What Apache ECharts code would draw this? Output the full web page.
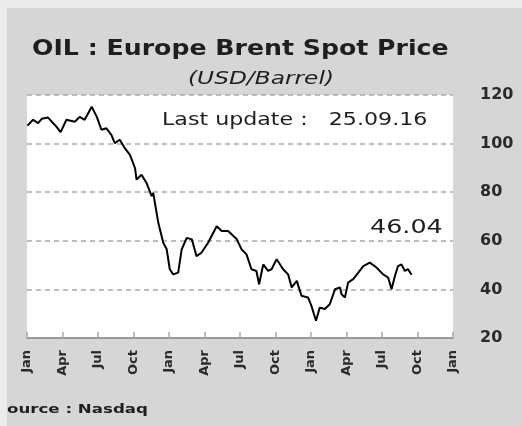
<!DOCTYPE html>
<html>
<head>
<meta charset="utf-8">
<script src="https://cdn.jsdelivr.net/npm/echarts@6/dist/echarts.min.js"></script>
<style>
  html, body { margin: 0; padding: 0; background: #ebebeb; }
  #chart { width: 522px; height: 426px; }
</style>
</head>
<body>
<div id="chart"></div>
<script>
// Brent spot price (approx.)
const dates = [
  '2014-01-02', '2014-01-17', '2014-01-30', '2014-02-08', '2014-02-23', '2014-03-04',
  '2014-03-16', '2014-03-27', '2014-04-11', '2014-05-02', '2014-05-15', '2014-05-28',
  '2014-06-15', '2014-06-28', '2014-07-10', '2014-07-23', '2014-08-05', '2014-08-14',
  '2014-08-27', '2014-09-09', '2014-09-22', '2014-10-05', '2014-10-09', '2014-10-22',
  '2014-11-04', '2014-11-17', '2014-11-21', '2014-12-04', '2014-12-17', '2014-12-26',
  '2015-01-03', '2015-01-12', '2015-01-25', '2015-02-03', '2015-02-15', '2015-02-27',
  '2015-03-11', '2015-03-24', '2015-04-10', '2015-05-02', '2015-05-15', '2015-06-01',
  '2015-06-23', '2015-07-05', '2015-07-18', '2015-07-31', '2015-08-13', '2015-08-20',
  '2015-08-31', '2015-09-12', '2015-09-21', '2015-10-04', '2015-10-21', '2015-11-03',
  '2015-11-12', '2015-11-25', '2015-12-07', '2015-12-24', '2016-01-02', '2016-01-14',
  '2016-01-24', '2016-02-06', '2016-02-18', '2016-03-02', '2016-03-15', '2016-03-19',
  '2016-03-28', '2016-04-05', '2016-04-18', '2016-05-01', '2016-05-14', '2016-05-31',
  '2016-06-17', '2016-07-04', '2016-07-17', '2016-07-26', '2016-08-04', '2016-08-12',
  '2016-08-21', '2016-08-30', '2016-09-07', '2016-09-16'
]
const prices = [
  107.4, 109.8, 108.4, 110.2, 110.7, 109.0,
  107.0, 104.7, 109.8, 109.0, 111.0, 109.8,
  115.2, 111.0, 105.7, 106.3, 103.6, 100.2,
  101.6, 98.1, 95.4, 89.9, 85.2, 87.2,
  83.8, 78.4, 79.7, 67.4, 59.2, 56.5,
  48.3, 46.2, 46.9, 56.5, 61.2, 60.6,
  53.7, 55.1, 59.2, 66.0, 64.0, 64.0,
  60.6, 56.5, 54.4, 48.3, 47.6, 42.1,
  50.3, 47.6, 48.3, 52.4, 48.3, 46.2,
  40.8, 43.5, 37.4, 36.7, 33.3, 27.1,
  32.5, 31.9, 33.9, 40.1, 40.8, 38.0,
  36.7, 42.8, 44.2, 46.9, 49.6, 51.0,
  49.0, 46.2, 44.9, 40.1, 45.6, 49.6,
  50.3, 47.6, 48.3, 46.0
]
const tickLabels = ['Jan', 'Apr', 'Jul', 'Oct', 'Jan', 'Apr', 'Jul', 'Oct', 'Jan', 'Apr', 'Jul', 'Oct', 'Jan']
const lastValue = '46.04'
const lastUpdate = '25.09.16'

// months since Jan 2014 (fractional)
function toMonths(s) {
  const [y, m, d] = s.split('-').map(Number)
  const dim = new Date(y, m, 0).getDate()
  return (y - 2014) * 12 + (m - 1) + (d - 1) / dim
}
const seriesData = dates.map((d, i) => [toMonths(d), prices[i]])

const chart = echarts.init(document.getElementById('chart'))

const txt = (x, y, text, font, extra) => Object.assign({
  type: 'text', x, y, scaleX: 1.2, originX: 0, originY: 0, z: 10,
  style: { text, x: 0, y: 0, font, fill: '#1e1e1e', textAlign: 'left', textVerticalAlign: 'middle' },
}, extra || {})

chart.setOption({
  animation: false,
  backgroundColor: '#ebebeb',
  grid: {
    left: 27, right: 69, top: 95, bottom: 88,
    show: true, backgroundColor: '#ffffff', borderWidth: 0,
  },
  xAxis: {
    type: 'value',
    min: 0, max: 36, interval: 3,
    axisLine: { lineStyle: { color: '#999999', width: 2 } },
    axisTick: { inside: true, length: 6, lineStyle: { color: '#aaaaaa', width: 1.5 } },
    splitLine: { show: false },
    axisLabel: {
      rotate: 90, margin: 12,
      color: '#2a2a2a', fontSize: 13, fontWeight: 'bold', fontFamily: 'DejaVu Sans',
      formatter: v => tickLabels[Math.round(v / 3)] || '',
    },
  },
  yAxis: {
    type: 'value',
    position: 'right',
    min: 20, max: 120, interval: 20,
    axisLine: { show: false },
    axisTick: { show: false },
    splitLine: { lineStyle: { color: '#aaaaaa', width: 1.5, type: [5, 4] } },
    axisLabel: {
      margin: 27, align: 'left',
      color: '#2a2a2a', fontSize: 16, fontWeight: 'bold', fontFamily: 'DejaVu Sans',
    },
  },
  series: [{
    type: 'line',
    data: seriesData,
    symbol: 'none',
    lineStyle: { color: '#000000', width: 2 },
  }],
  graphic: [
    { type: 'rect', shape: { x: 7, y: 8, width: 515, height: 418 }, style: { fill: '#d6d6d6' }, z: -10, silent: true },
    txt(32, 50, 'OIL : Europe Brent Spot Price', 'bold 21px "DejaVu Sans"'),
    txt(188, 80, '(USD/Barrel)', 'italic 17px "DejaVu Sans"', { scaleX: 1.37 }),
    txt(162, 120, 'Last update :   ' + lastUpdate, '18px "DejaVu Sans"', { scaleX: 1.23 }),
    txt(370, 228, lastValue, '20px "DejaVu Sans"', { scaleX: 1.27 }),
    txt(-5, 410, 'Source : Nasdaq', 'bold 13px "DejaVu Sans"', { scaleX: 1.28 }),
    // light margin strip covering the clipped "S"
    { type: 'rect', shape: { x: 0, y: 0, width: 7, height: 426 }, style: { fill: '#ebebeb' }, z: 20, silent: true },
  ],
})
</script>
</body>
</html>
